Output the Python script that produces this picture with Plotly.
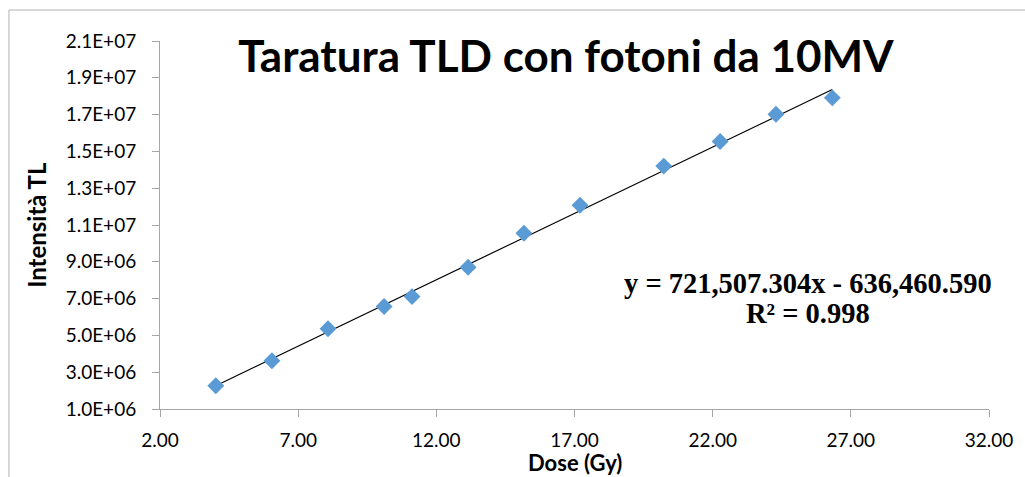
import plotly.graph_objects as go

# Data
dose_gy = [4.02, 6.05, 8.08, 10.11, 11.12, 13.15, 15.17, 17.20, 20.23, 22.27, 24.29, 26.33]
intensity_tl = [2.26e6, 3.62e6, 5.36e6, 6.57e6, 7.11e6, 8.70e6, 10.55e6, 12.07e6,
                14.20e6, 15.54e6, 17.02e6, 17.91e6]

# Linear trendline coefficients (as printed on the chart)
slope = 721507.304
intercept = -636460.590
r_squared = 0.998

x_ticks = [2, 7, 12, 17, 22, 27, 32]
y_ticks = [1.0e6, 3.0e6, 5.0e6, 7.0e6, 9.0e6, 1.1e7, 1.3e7, 1.5e7, 1.7e7, 1.9e7, 2.1e7]
y_tick_labels = ["1.0E+06", "3.0E+06", "5.0E+06", "7.0E+06", "9.0E+06", "1.1E+07",
                 "1.3E+07", "1.5E+07", "1.7E+07", "1.9E+07", "2.1E+07"]
x_tick_labels = ["%.2f" % v for v in x_ticks]

trend_x = [min(dose_gy), max(dose_gy)]
trend_y = [slope * v + intercept for v in trend_x]

fig = go.Figure()
fig.add_trace(go.Scatter(x=trend_x, y=trend_y, mode="lines",
                         line=dict(color="black", width=1.2), hoverinfo="skip",
                         showlegend=False))
fig.add_trace(go.Scatter(x=dose_gy, y=intensity_tl, mode="markers",
                         marker=dict(symbol="diamond", size=13, color="#5b9bd5",
                                     line=dict(width=0)),
                         showlegend=False))

FONT = "Lato, Carlito, sans-serif"
axis_font = dict(family=FONT, size=19, color="black")
eq_font = dict(family="Liberation Serif, Times New Roman, serif", size=28.5, color="black")

fig.update_layout(
    width=1025, height=477,
    margin=dict(l=160, r=31, t=41, b=68),
    paper_bgcolor="white", plot_bgcolor="white",
    font=axis_font,
    title=dict(text="<b>Taratura TLD con fotoni da 10MV</b>",
               font=dict(family=FONT, size=44, color="black"),
               x=566 / 1025, xanchor="center", y=1 - 57 / 477, yanchor="middle"),
    xaxis=dict(range=[2, 32], tickvals=x_ticks, ticktext=x_tick_labels,
               showgrid=False, zeroline=False, showline=True, linecolor="#a6a6a6",
               linewidth=1, ticks="outside", ticklen=7, tickcolor="#a6a6a6",
               ticklabelstandoff=7, tickfont=axis_font),
    yaxis=dict(range=[1.0e6, 2.1e7], tickvals=y_ticks, ticktext=y_tick_labels,
               showgrid=False, zeroline=False, showline=True, linecolor="#a6a6a6",
               linewidth=1, ticks="outside", ticklen=7, tickcolor="#a6a6a6",
               ticklabelstandoff=12, tickfont=axis_font),
    shapes=[dict(type="rect", xref="paper", yref="paper",
                 x0=(8 - 160) / 834, x1=1.2, y0=-0.5, y1=(409 - 10) / 368,
                 line=dict(color="#b3b3b3", width=1), layer="below")],
    annotations=[
        dict(text="<b>Dose (Gy)</b>", xref="paper", yref="paper",
             x=0.5, y=(409 - 462) / 368, xanchor="center", yanchor="middle",
             showarrow=False, font=dict(family=FONT, size=22, color="black")),
        dict(text="<b>Intensità TL</b>", xref="paper", yref="paper",
             x=(35 - 160) / 834, y=0.5, xanchor="center", yanchor="middle",
             textangle=-90, showarrow=False,
             font=dict(family=FONT, size=24, color="black")),
        dict(text="<b>y = 721,507.304x - 636,460.590</b>",
             xref="paper", yref="paper",
             x=(812 - 160) / 834, y=(409 - 283) / 368,
             xanchor="center", yanchor="middle", showarrow=False, font=eq_font),
        dict(text="<b>R² = %.3f</b>" % r_squared,
             xref="paper", yref="paper",
             x=(812 - 160) / 834, y=(409 - 313) / 368,
             xanchor="center", yanchor="middle", showarrow=False, font=eq_font),
    ],
)

fig.write_html("out.html")
